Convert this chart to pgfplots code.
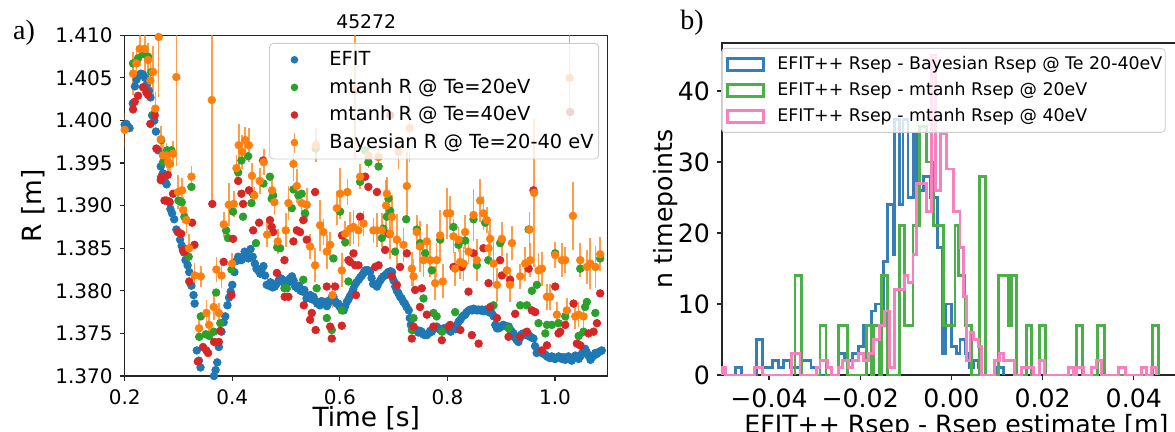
\documentclass[border=0pt]{standalone}
\usepackage{pgfplots}
\pgfplotsset{compat=1.18}
\usepackage{pgfplotstable}
\usepackage{fontspec}
\setmainfont{DejaVu Sans}
\newfontfamily\panelfont{Liberation Serif}

\definecolor{cefit}{HTML}{1F77B4}
\definecolor{cmtA}{HTML}{2CA02C}
\definecolor{cmtB}{HTML}{D62728}
\definecolor{cbay}{HTML}{FF7F0E}
\definecolor{hblue}{HTML}{377EB8}
\definecolor{hgreen}{HTML}{4DAF4A}
\definecolor{hpink}{HTML}{F781BF}

\newcommand\fs[1]{\fontsize{#1}{#1}\selectfont}

% EFIT separatrix radius
\pgfplotstableread{
t r
0.200 1.3995
0.203 1.3996
0.206 1.3993
0.209 1.3991
0.215 1.4020
0.219 1.4040
0.222 1.4048
0.226 1.4053
0.230 1.4055
0.234 1.4054
0.238 1.4050
0.241 1.4042
0.245 1.4035
0.248 1.4027
0.251 1.4006
0.255 1.4000
0.258 1.3987
0.262 1.3965
0.267 1.3946
0.271 1.3938
0.275 1.3928
0.278 1.3925
0.282 1.3905
0.285 1.3896
0.288 1.3891
0.292 1.3884
0.296 1.3872
0.299 1.3869
0.303 1.3860
0.306 1.3853
0.310 1.3845
0.313 1.3836
0.317 1.3830
0.320 1.3822
0.324 1.3806
0.328 1.3795
0.330 1.3785
0.334 1.3730
0.338 1.3718
0.341 1.3710
0.344 1.3698
0.366 1.3700
0.369 1.3707
0.372 1.3716
0.375 1.3734
0.380 1.3752
0.384 1.3763
0.387 1.3770
0.391 1.3783
0.394 1.3792
0.397 1.3799
0.400 1.3807
0.404 1.3822
0.408 1.3835
0.411 1.3840
0.414 1.3838
0.417 1.3836
0.420 1.3840
0.423 1.3846
0.427 1.3842
0.430 1.3838
0.434 1.3849
0.438 1.3840
0.442 1.3832
0.445 1.3826
0.448 1.3824
0.452 1.3820
0.455 1.3826
0.458 1.3829
0.461 1.3818
0.464 1.3807
0.468 1.3806
0.471 1.3810
0.475 1.3804
0.479 1.3805
0.482 1.3808
0.486 1.3812
0.489 1.3815
0.492 1.3814
0.495 1.3810
0.498 1.3807
0.501 1.3812
0.505 1.3810
0.508 1.3815
0.511 1.3817
0.514 1.3812
0.517 1.3805
0.521 1.3803
0.524 1.3806
0.527 1.3800
0.531 1.3799
0.534 1.3801
0.538 1.3791
0.541 1.3794
0.545 1.3795
0.548 1.3790
0.551 1.3793
0.555 1.3788
0.558 1.3785
0.563 1.3783
0.566 1.3788
0.569 1.3786
0.573 1.3787
0.576 1.3782
0.579 1.3786
0.581 1.3789
0.585 1.3792
0.588 1.3793
0.591 1.3788
0.594 1.3785
0.597 1.3785
0.600 1.3781
0.604 1.3779
0.607 1.3777
0.610 1.3782
0.613 1.3787
0.616 1.3790
0.619 1.3794
0.622 1.3797
0.625 1.3802
0.628 1.3807
0.631 1.3810
0.635 1.3813
0.638 1.3816
0.641 1.3818
0.644 1.3821
0.647 1.3824
0.650 1.3824
0.653 1.3824
0.656 1.3822
0.659 1.3815
0.662 1.3808
0.666 1.3807
0.669 1.3805
0.672 1.3809
0.675 1.3812
0.678 1.3815
0.681 1.3817
0.684 1.3818
0.687 1.3820
0.690 1.3822
0.694 1.3823
0.697 1.3822
0.700 1.3812
0.703 1.3805
0.706 1.3800
0.709 1.3797
0.712 1.3793
0.715 1.3791
0.718 1.3787
0.721 1.3785
0.724 1.3781
0.728 1.3777
0.730 1.3768
0.732 1.3760
0.735 1.3756
0.737 1.3755
0.740 1.3754
0.743 1.3754
0.746 1.3751
0.749 1.3753
0.752 1.3752
0.755 1.3749
0.758 1.3748
0.762 1.3748
0.765 1.3750
0.768 1.3753
0.771 1.3752
0.774 1.3755
0.777 1.3757
0.780 1.3758
0.784 1.3756
0.787 1.3754
0.790 1.3754
0.793 1.3756
0.796 1.3755
0.799 1.3756
0.802 1.3754
0.806 1.3752
0.809 1.3755
0.812 1.3756
0.815 1.3755
0.818 1.3760
0.821 1.3764
0.824 1.3766
0.827 1.3769
0.830 1.3771
0.833 1.3772
0.836 1.3775
0.840 1.3777
0.843 1.3778
0.846 1.3777
0.849 1.3779
0.852 1.3778
0.855 1.3777
0.858 1.3778
0.861 1.3777
0.864 1.3778
0.867 1.3776
0.871 1.3778
0.874 1.3777
0.877 1.3775
0.880 1.3778
0.883 1.3773
0.886 1.3770
0.889 1.3760
0.892 1.3756
0.895 1.3756
0.898 1.3757
0.901 1.3759
0.904 1.3760
0.907 1.3759
0.910 1.3758
0.914 1.3758
0.917 1.3754
0.920 1.3752
0.923 1.3750
0.926 1.3745
0.929 1.3742
0.932 1.3740
0.935 1.3745
0.938 1.3749
0.941 1.3750
0.944 1.3749
0.947 1.3748
0.951 1.3748
0.954 1.3746
0.957 1.3745
0.960 1.3744
0.963 1.3735
0.966 1.3727
0.969 1.3729
0.972 1.3729
0.976 1.3727
0.979 1.3726
0.982 1.3725
0.985 1.3723
0.988 1.3722
0.991 1.3721
0.994 1.3723
0.997 1.3722
1.000 1.3720
1.003 1.3721
1.007 1.3723
1.010 1.3722
1.013 1.3720
1.016 1.3722
1.019 1.3719
1.022 1.3721
1.025 1.3723
1.028 1.3720
1.031 1.3718
1.034 1.3721
1.038 1.3724
1.041 1.3722
1.044 1.3720
1.047 1.3723
1.050 1.3726
1.053 1.3730
1.056 1.3732
1.059 1.3728
1.062 1.3724
1.066 1.3719
1.069 1.3722
1.072 1.3724
1.075 1.3727
1.078 1.3726
1.081 1.3728
1.084 1.3729
1.087 1.3730
}\efit

% mtanh R @ Te=20eV
\pgfplotstableread{
t r
0.2155 1.4067
0.2248 1.4073
0.2340 1.4078
0.2434 1.4075
0.2496 1.4057
0.2546 1.4008
0.2680 1.3977
0.2713 1.3951
0.2790 1.3965
0.2868 1.3965
0.3000 1.3906
0.3060 1.3904
0.3110 1.3887
0.3190 1.3840
0.3240 1.3922
0.3385 1.3746
0.3414 1.3770
0.3507 1.3749
0.3570 1.3747
0.3655 1.3752
0.3700 1.3798
0.3778 1.3762
0.3885 1.3871
0.3920 1.3862
0.3985 1.3825
0.4015 1.3893
0.4110 1.3939
0.4170 1.3953
0.4200 1.3887
0.4295 1.3958
0.4357 1.3903
0.4388 1.3913
0.4440 1.3856
0.4580 1.3926
0.4700 1.3934
0.4733 1.3908
0.4760 1.3912
0.4835 1.3851
0.4890 1.3850
0.4970 1.3803
0.5013 1.3803
0.5106 1.3897
0.5137 1.3919
0.5230 1.3912
0.5290 1.3914
0.5320 1.3813
0.5354 1.3891
0.5550 1.3967
0.5570 1.3803
0.5757 1.3768
0.5850 1.3754
0.5880 1.3838
0.6005 1.3893
0.6036 1.3777
0.6100 1.3857
0.6160 1.3811
0.6377 1.3928
0.6470 1.3965
0.6530 1.3951
0.6720 1.3946
0.6780 1.3862
0.6810 1.3873
0.6873 1.3887
0.6904 1.3908
0.6935 1.3894
0.7028 1.3846
0.7233 1.3884
0.7338 1.3754
0.7370 1.3768
0.7430 1.3872
0.7493 1.3856
0.7555 1.3791
0.7586 1.3844
0.7710 1.3824
0.7741 1.3774
0.7800 1.3770
0.7865 1.3860
0.7900 1.3752
0.8113 1.3875
0.8144 1.3775
0.8206 1.3854
0.8330 1.3859
0.8485 1.3884
0.8547 1.3830
0.8702 1.3880
0.8760 1.3836
0.8857 1.3783
0.8981 1.3856
0.9010 1.3860
0.9136 1.3756
0.9353 1.3783
0.9477 1.3783
0.9510 1.3872
0.9570 1.3800
0.9663 1.3807
0.9694 1.3762
0.9820 1.3750
0.9850 1.3760
0.9942 1.3760
1.0004 1.3844
1.0066 1.3762
1.0190 1.3770
1.0440 1.3747
1.0470 1.3826
1.0530 1.3752
1.0560 1.3781
1.0593 1.3787
1.0750 1.3774
1.0840 1.3838
}\mtA

% mtanh R @ Te=40eV
\pgfplotstableread{
t r
0.2155 1.4013
0.2186 1.4022
0.2248 1.4029
0.2340 1.4039
0.2403 1.4033
0.2434 1.4030
0.2477 1.3996
0.2558 1.4006
0.2589 1.3967
0.2670 1.3930
0.2680 1.3934
0.2740 1.3906
0.2775 1.3906
0.2800 1.3936
0.2837 1.3904
0.2899 1.3914
0.2990 1.3869
0.3050 1.3867
0.3080 1.3848
0.3114 1.3846
0.3200 1.3811
0.3253 1.3880
0.3296 1.3854
0.3360 1.3717
0.3456 1.3734
0.3518 1.3730
0.3550 1.3727
0.3629 1.3902
0.3661 1.3740
0.3750 1.3740
0.3778 1.3753
0.3840 1.3834
0.3985 1.3795
0.4015 1.3861
0.4110 1.3929
0.4170 1.3914
0.4201 1.3902
0.4310 1.3918
0.4388 1.3871
0.4499 1.3880
0.4573 1.3953
0.4700 1.3883
0.4733 1.3875
0.4760 1.3869
0.4830 1.3821
0.4970 1.3836
0.4975 1.3793
0.5044 1.3793
0.5137 1.3858
0.5200 1.3871
0.5260 1.3869
0.5320 1.3883
0.5330 1.3783
0.5385 1.3860
0.5447 1.3766
0.5478 1.3774
0.5540 1.3916
0.5550 1.3754
0.5757 1.3805
0.5820 1.3758
0.5850 1.3744
0.5912 1.3805
0.6036 1.3759
0.6040 1.3865
0.6160 1.3836
0.6190 1.3834
0.6253 1.3844
0.6284 1.3830
0.6300 1.3795
0.6346 1.3830
0.6377 1.3887
0.6470 1.3934
0.6530 1.3922
0.6656 1.3828
0.6690 1.3916
0.6720 1.3830
0.6842 1.3848
0.6904 1.3867
0.6935 1.4006
0.6966 1.3817
0.7060 1.3807
0.7120 1.3828
0.7245 1.3844
0.7338 1.3744
0.7370 1.3758
0.7400 1.3801
0.7490 1.3781
0.7524 1.3803
0.7617 1.3772
0.7740 1.3758
0.7896 1.3742
0.8020 1.3758
0.8050 1.3760
0.8113 1.3828
0.8240 1.3754
0.8270 1.3828
0.8392 1.3799
0.8454 1.3748
0.8485 1.3844
0.8580 1.3738
0.8671 1.3850
0.8764 1.3809
0.8795 1.3781
0.8920 1.3768
0.8980 1.3836
0.9012 1.3818
0.9136 1.3746
0.9167 1.3813
0.9260 1.3773
0.9353 1.3746
0.9477 1.3752
0.9510 1.3826
0.9570 1.3777
0.9600 1.3918
0.9632 1.3775
0.9756 1.3730
0.9850 1.3736
1.0004 1.3805
1.0066 1.3750
1.0097 1.3752
1.0190 1.3760
1.0283 1.4010
1.0345 1.3785
1.0407 1.3738
1.0470 1.3736
1.0624 1.3750
1.0717 1.3752
1.0780 1.3762
1.0840 1.3797
}\mtB

% Bayesian R @ Te=20-40 eV, with error
\pgfplotstableread{
t r e
0.2000 1.3989 0.0020
0.2155 1.4055 0.0025
0.2217 1.4067 0.0020
0.2280 1.4084 0.0020
0.2372 1.4084 0.0030
0.2434 1.4071 0.0020
0.2477 1.4047 0.0020
0.2527 1.4057 0.0030
0.2570 1.4014 0.0020
0.2632 1.4098 0.0070
0.2670 1.3978 0.0015
0.2710 1.3959 0.0020
0.2775 1.3959 0.0015
0.2806 1.3951 0.0015
0.2837 1.3949 0.0015
0.2899 1.3961 0.0015
0.2960 1.4051 0.0105
0.2992 1.3916 0.0020
0.3066 1.3918 0.0015
0.3085 1.3895 0.0015
0.3148 1.3883 0.0015
0.3198 1.3850 0.0017
0.3241 1.3934 0.0012
0.3300 1.3818 0.0015
0.3383 1.3756 0.0012
0.3414 1.3817 0.0012
0.3520 1.3774 0.0015
0.3570 1.3760 0.0012
0.3620 1.4024 0.0122
0.3655 1.3781 0.0015
0.3705 1.3825 0.0015
0.3750 1.3774 0.0012
0.3800 1.3818 0.0015
0.3842 1.3878 0.0015
0.3935 1.3901 0.0025
0.3997 1.3832 0.0012
0.4028 1.3902 0.0015
0.4078 1.3944 0.0015
0.4120 1.3971 0.0025
0.4183 1.3963 0.0020
0.4240 1.3977 0.0015
0.4306 1.3971 0.0020
0.4367 1.3935 0.0015
0.4410 1.3912 0.0010
0.4510 1.3929 0.0015
0.4585 1.3951 0.0015
0.4647 1.3866 0.0015
0.4740 1.3918 0.0015
0.4783 1.3904 0.0015
0.4845 1.3858 0.0015
0.4994 1.3871 0.0020
0.5044 1.3903 0.0020
0.5137 1.3949 0.0020
0.5200 1.3923 0.0020
0.5290 1.3903 0.0015
0.5385 1.3901 0.0020
0.5447 1.3852 0.0015
0.5540 1.3830 0.0020
0.5555 1.3971 0.0020
0.5633 1.3877 0.0030
0.5695 1.3869 0.0015
0.5757 1.3846 0.0020
0.5820 1.3854 0.0015
0.5862 1.3795 0.0015
0.5943 1.3897 0.0020
0.6005 1.3914 0.0030
0.6036 1.3824 0.0020
0.6100 1.3867 0.0015
0.6140 1.3916 0.0015
0.6190 1.3873 0.0020
0.6253 1.3875 0.0020
0.6280 1.4035 0.0080
0.6346 1.3871 0.0020
0.6377 1.3934 0.0015
0.6440 1.3879 0.0015
0.6530 1.3959 0.0015
0.6625 1.3871 0.0015
0.6687 1.3871 0.0020
0.6720 1.3957 0.0015
0.6780 1.3871 0.0020
0.6860 1.3900 0.0030
0.6873 1.3914 0.0020
0.6935 1.3867 0.0030
0.6966 1.3887 0.0025
0.7060 1.3860 0.0030
0.7090 1.3963 0.0020
0.7183 1.3854 0.0020
0.7245 1.3923 0.0040
0.7295 1.3991 0.0040
0.7338 1.3826 0.0020
0.7370 1.3817 0.0020
0.7430 1.3869 0.0020
0.7493 1.3852 0.0030
0.7555 1.3836 0.0020
0.7617 1.3858 0.0020
0.7680 1.3836 0.0020
0.7772 1.3809 0.0020
0.7800 1.3836 0.0020
0.7865 1.3865 0.0030
0.7914 1.3811 0.0020
0.7990 1.3891 0.0030
0.8051 1.3891 0.0020
0.8113 1.3864 0.0020
0.8144 1.3826 0.0020
0.8206 1.3860 0.0015
0.8237 1.3834 0.0020
0.8300 1.3832 0.0020
0.8330 1.3869 0.0020
0.8392 1.3846 0.0015
0.8485 1.3889 0.0030
0.8547 1.3836 0.0025
0.8610 1.3906 0.0025
0.8670 1.3891 0.0020
0.8733 1.3883 0.0015
0.8764 1.3850 0.0020
0.8795 1.3861 0.0020
0.8857 1.3832 0.0025
0.8920 1.3807 0.0020
0.9012 1.3861 0.0020
0.9105 1.3824 0.0020
0.9167 1.3807 0.0020
0.9200 1.3856 0.0020
0.9353 1.3817 0.0015
0.9446 1.3832 0.0020
0.9527 1.3872 0.0020
0.9540 1.3836 0.0020
0.9613 1.3915 0.0087
0.9694 1.3824 0.0020
0.9756 1.3826 0.0020
0.9850 1.3793 0.0015
0.9911 1.3793 0.0015
1.0004 1.3842 0.0015
1.0035 1.3772 0.0015
1.0128 1.3836 0.0020
1.0190 1.3836 0.0015
1.0220 1.3777 0.0015
1.0270 1.4050 0.0050
1.0333 1.3888 0.0040
1.0376 1.3770 0.0015
1.0438 1.3772 0.0015
1.0470 1.3836 0.0020
1.0530 1.3770 0.0015
1.0593 1.3828 0.0020
1.0655 1.3832 0.0030
1.0750 1.3828 0.0025
1.0840 1.3843 0.0020
}\bayes

\begin{document}
\begin{tikzpicture}
\useasboundingbox (0pt,0pt) rectangle (587.5pt,216pt);
\node[font=\panelfont\fs{14}] at (12pt,199.5pt) {a)};
\node[font=\panelfont\fs{14}] at (346pt,204.5pt) {b)};

% ---- panel a: separatrix radius vs time
\begin{axis}[
  at={(62.35pt,28pt)}, anchor=south west,
  scale only axis, width=241.5pt, height=170.35pt,
  xmin=0.2, xmax=1.098, ymin=1.37, ymax=1.41,
  xtick={0.2,0.4,0.6,0.8,1.0}, xticklabels={0.2,0.4,0.6,0.8,1.0},
  ytick={1.370,1.375,1.380,1.385,1.390,1.395,1.400,1.405,1.410},
  yticklabels={1.370,1.375,1.380,1.385,1.390,1.395,1.400,1.405,1.410},
  scaled ticks=false,
  tick align=outside, tick pos=left, major tick length=2.5pt,
  tick style={black!85, line width=0.6pt},
  axis line style={black!85, line width=0.6pt},
  tick label style={font=\fs{10}},
  xticklabel shift=0.75pt,
  title={45272}, title style={font=\fs{9.4}, yshift=-6.5pt},
  xlabel={Time [s]}, ylabel={R [m]},
  label style={font=\fs{13.2}},
  xlabel style={at={(axis description cs:0.5,0)}, anchor=base, yshift=-25.4pt},
  ylabel style={yshift=-1.5pt},
  legend style={at={(1,1)}, anchor=north east, xshift=-4.35pt, yshift=-3.85pt,
    draw=black!20, fill=white, fill opacity=0.8, draw opacity=1, text opacity=1,
    rounded corners=2pt, inner xsep=2.5pt, inner ysep=1.3pt,
    column sep=7.5pt, row sep=0pt, font=\fs{9.7}, nodes={inner sep=0pt}},
  legend cell align=left,
]
\addplot[cefit, only marks, mark=*, mark size=1.9pt,
  legend image code/.code={\path[draw=none, fill=none] (0pt,-6.9pt) rectangle (20pt,6.9pt);
    \fill[cefit, draw=none, fill opacity=1] (10pt,0pt) circle (1.9pt);}]
  table[x=t, y=r] {\efit};
\addlegendentry{EFIT}
\addplot[cmtA, only marks, mark=*, mark size=1.9pt,
  legend image code/.code={\path[draw=none, fill=none] (0pt,-6.9pt) rectangle (20pt,6.9pt);
    \fill[cmtA, draw=none, fill opacity=1] (10pt,0pt) circle (1.9pt);}]
  table[x=t, y=r] {\mtA};
\addlegendentry{mtanh R @ Te=20eV}
\addplot[cmtB, only marks, mark=*, mark size=1.9pt,
  legend image code/.code={\path[draw=none, fill=none] (0pt,-6.9pt) rectangle (20pt,6.9pt);
    \fill[cmtB, draw=none, fill opacity=1] (10pt,0pt) circle (1.9pt);}]
  table[x=t, y=r] {\mtB};
\addlegendentry{mtanh R @ Te=40eV}
\addplot[cbay, only marks, mark=*, mark size=1.9pt,
  legend image code/.code={\path[draw=none, fill=none] (0pt,-6.9pt) rectangle (20pt,6.9pt);
    \draw[cbay, line width=0.8pt, draw opacity=0.75] (10pt,-5pt) -- (10pt,5pt);
    \fill[cbay, draw=none, fill opacity=1] (10pt,0pt) circle (1.9pt);},
  error bars/.cd, y dir=both, y explicit, error mark=none,
  error bar style={line width=0.8pt, cbay, opacity=0.75}]
  table[x=t, y=r, y error=e] {\bayes};
\addlegendentry{Bayesian R @ Te=20-40 eV}
\end{axis}

% ---- panel b: histograms of the differences
\begin{axis}[
  at={(361pt,28.5pt)}, anchor=south west,
  scale only axis, width=234.4pt, height=166pt,
  xmin=-0.0503, xmax=0.0525, ymin=0, ymax=46.76,
  xtick={-0.04,-0.02,0,0.02,0.04}, xticklabels={−0.04,−0.02,0.00,0.02,0.04},
  ytick={0,10,20,30,40}, yticklabels={0,10,20,30,40},
  scaled ticks=false, clip=false,
  tick align=outside, tick pos=left, major tick length=2.5pt,
  tick style={black!85, line width=0.6pt},
  axis line style={black!85, line width=0.6pt},
  tick label style={font=\fs{12.6}},
  xticklabel shift=0.9pt,
  xlabel={EFIT++ Rsep - Rsep estimate [m]}, ylabel={n timepoints},
  label style={font=\fs{12.6}},
  xlabel style={at={(axis description cs:0.5,0)}, anchor=base, yshift=-29.5pt},
  ylabel style={yshift=-7pt},
  legend style={at={(0,1)}, anchor=north west, xshift=-0.5pt, yshift=-2.5pt,
    draw=black!20, fill=white, fill opacity=0.8, draw opacity=1, text opacity=1,
    rounded corners=2pt, inner xsep=1.5pt, inner ysep=1.5pt,
    column sep=5.5pt, row sep=0pt, font=\fs{8.7}, nodes={inner sep=0pt}},
  legend cell align=left,
]
\addplot[const plot, hblue, line width=1.4pt,
  legend image code/.code={\path[draw=none, fill=none] (0pt,-6.5pt) rectangle (21pt,6.5pt);
    \draw[hblue, line width=1.4pt, sharp corners, draw opacity=1] (1.5pt,-3pt) rectangle (19.5pt,3pt);}]
  coordinates {(-0.0473,0) (-0.0473,1) (-0.0461,0) (-0.0427,5) (-0.0415,1) (-0.0393,2)
  (-0.0379,1) (-0.0369,2) (-0.0353,1) (-0.0328,2) (-0.0308,1) (-0.0296,0) (-0.0248,3)
  (-0.0234,2) (-0.0216,3) (-0.0204,4) (-0.0193,7) (-0.0176,9) (-0.0166,10) (-0.0153,9)
  (-0.0148,16) (-0.0140,24) (-0.0127,17) (-0.0124,36) (-0.0113,24) (-0.0106,36)
  (-0.0095,25) (-0.0083,34) (-0.0076,26) (-0.0062,28) (-0.0046,25) (-0.0030,18)
  (-0.0020,3) (-0.0013,10) (0.0000,4) (0.0011,3) (0.0019,5) (0.0030,3) (0.0040,1)
  (0.0048,2) (0.0059,1) (0.0066,0) (0.0100,1) (0.0114,0)};
\addlegendentry{EFIT++ Rsep - Bayesian Rsep @ Te 20-40eV}
\addplot[const plot, hgreen, line width=1.4pt,
  legend image code/.code={\path[draw=none, fill=none] (0pt,-6.5pt) rectangle (21pt,6.5pt);
    \draw[hgreen, line width=1.4pt, sharp corners, draw opacity=1] (1.5pt,-3pt) rectangle (19.5pt,3pt);}]
  coordinates {(-0.0343,0) (-0.0343,14) (-0.0329,0) (-0.0288,7) (-0.0275,0) (-0.0247,7)
  (-0.0227,0) (-0.0186,7) (-0.0175,0) (-0.0170,7) (-0.0157,0) (-0.0153,14) (-0.0140,0)
  (-0.0113,21) (-0.0102,7) (-0.0084,21) (-0.0070,35) (-0.0055,30) (-0.0040,21)
  (-0.0018,7) (0.0008,21) (0.0015,14) (0.0030,7) (0.0044,0) (0.0061,28) (0.0074,0)
  (0.0103,14) (0.0125,7) (0.0132,14) (0.0143,0) (0.0164,7) (0.0176,0) (0.0194,7)
  (0.0207,0) (0.0274,7) (0.0288,0) (0.0320,7) (0.0335,0) (0.0441,7) (0.0454,0)};
\addlegendentry{EFIT++ Rsep - mtanh Rsep @ 20eV}
\addplot[const plot, hpink, line width=1.4pt,
  legend image code/.code={\path[draw=none, fill=none] (0pt,-6.5pt) rectangle (21pt,6.5pt);
    \draw[hpink, line width=1.4pt, sharp corners, draw opacity=1] (1.5pt,-3pt) rectangle (19.5pt,3pt);}]
  coordinates {(-0.0502,0) (-0.0502,1) (-0.0495,0) (-0.0431,1) (-0.0414,0) (-0.0351,3)
  (-0.0332,0) (-0.0296,1) (-0.0288,2) (-0.0272,1) (-0.0263,0) (-0.0248,1) (-0.0239,2)
  (-0.0226,1) (-0.0217,2) (-0.0204,3) (-0.0192,2) (-0.0182,3) (-0.0170,5) (-0.0157,7)
  (-0.0146,9) (-0.0135,1) (-0.0125,12) (-0.0102,14) (-0.0095,13) (-0.0084,17)
  (-0.0076,27) (-0.0055,23) (-0.0044,45) (-0.0035,26) (-0.0023,34) (-0.0011,29)
  (0.0004,23) (0.0019,18) (0.0026,11) (0.0033,2) (0.0041,6) (0.0048,5) (0.0059,4)
  (0.0066,0) (0.0095,2) (0.0106,3) (0.0114,2) (0.0139,0) (0.0154,1) (0.0180,0)
  (0.0194,2) (0.0205,0) (0.0256,1) (0.0267,0) (0.0275,1) (0.0289,0) (0.0308,1)
  (0.0318,2) (0.0329,0) (0.0366,1) (0.0381,0) (0.0417,1) (0.0428,0) (0.0439,1) (0.0450,0)};
\addlegendentry{EFIT++ Rsep - mtanh Rsep @ 40eV}
\end{axis}
\end{tikzpicture}
\end{document}
